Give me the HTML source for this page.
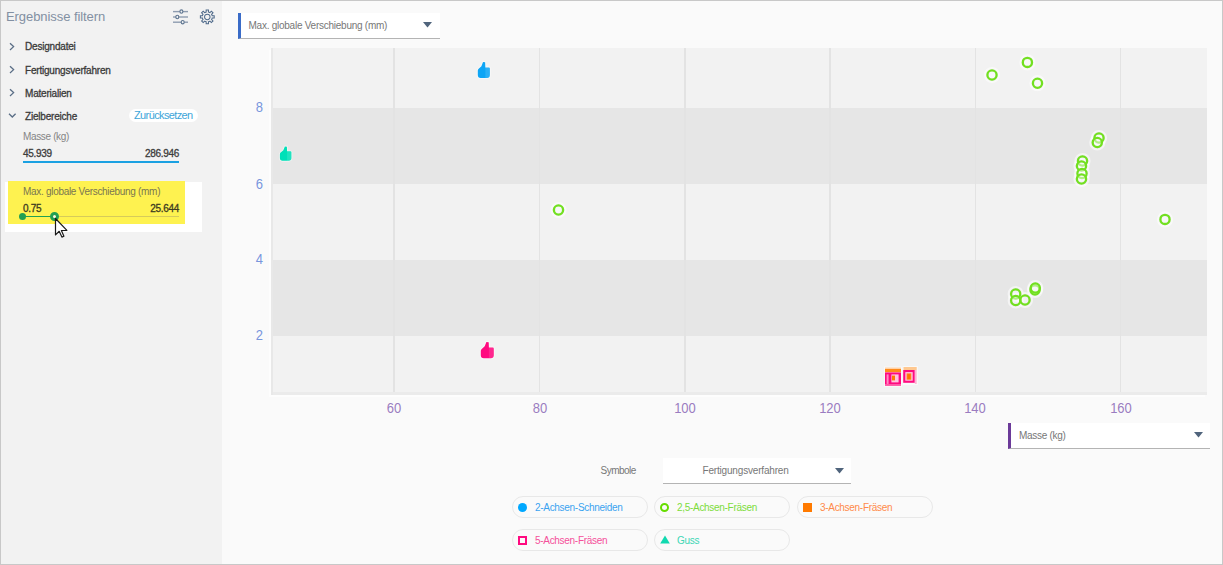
<!DOCTYPE html>
<html><head><meta charset="utf-8">
<style>
*{box-sizing:border-box;margin:0;padding:0}
html,body{width:1223px;height:565px;overflow:hidden;background:#fafafa;font-family:"Liberation Sans",sans-serif}
.abs{position:absolute}
#frame{position:absolute;left:0;top:0;width:1223px;height:565px;border:1px solid #c8c8c8;pointer-events:none;z-index:50}
#side{position:absolute;left:0;top:0;width:222px;height:565px;background:#f2f2f2}
.t{position:absolute;white-space:nowrap;line-height:1}
.hdr{font-size:10px;font-weight:400;color:#3a3a3a;letter-spacing:-0.2px;-webkit-text-stroke:0.3px #3a3a3a}
#plot{position:absolute;left:271px;top:48px;width:936px;height:347px;background:#f2f2f2;box-shadow:-2px 2px 0 #fdfdfd}
.band{position:absolute;left:0;width:936px;height:76px;background:#e6e6e6}
.gl{position:absolute;top:0;width:1.5px;height:344px;background:#e3e3e3}
.xt{position:absolute;top:401px;font-size:13px;color:#9a7cc0;transform:scaleY(1.1);transform-origin:0 0;line-height:1;width:40px;text-align:center;text-shadow:0 0 2px #fff}
.yt{position:absolute;left:247px;font-size:13px;color:#7896dc;transform:scaleY(1.1);transform-origin:0 0;line-height:1;width:16px;text-align:right;text-shadow:0 0 2px #fff}
.dd{position:absolute;background:#fff;border-bottom:1px solid #b4b4b4}
.pill{position:absolute;width:136px;height:21.5px;border:1px solid #e8e8e8;border-radius:11px}
.pill span{position:absolute;left:22px;top:5.7px;font-size:10px;letter-spacing:-0.3px;line-height:1;white-space:nowrap}
</style></head><body>
<div id="side">
<div class="t" style="left:6px;top:10px;font-size:13px;color:#8290a2;letter-spacing:-0.07px">Ergebnisse filtern</div>
<svg class="abs" style="left:170px;top:7px" width="22" height="20" viewBox="0 0 22 20">
 <g stroke="#8e9cb0" stroke-width="1.4" fill="none">
  <line x1="3" y1="4.6" x2="18" y2="4.6"/><line x1="3" y1="10" x2="18" y2="10"/><line x1="3" y1="15.2" x2="18" y2="15.2"/>
 </g>
 <g stroke="#5f7691" stroke-width="1.1" fill="#f2f2f2">
  <ellipse cx="11.4" cy="4.6" rx="1.5" ry="1.7"/><ellipse cx="7.3" cy="10" rx="1.5" ry="1.7"/><ellipse cx="12.7" cy="15.2" rx="1.5" ry="1.7"/>
 </g>
</svg>
<svg class="abs" style="left:198px;top:8px" width="19" height="19" viewBox="0 0 19 19"><g transform="translate(9.3,8.9)" stroke="#4f6a8a" stroke-width="1.05" fill="none" stroke-linejoin="miter"><path d="M-1.15 -4.87 L-1.15 -6.90 L1.15 -6.90 L1.15 -4.87 A5.0 5.0 0 0 1 2.63 -4.25 L4.07 -5.69 L5.69 -4.07 L4.25 -2.63 A5.0 5.0 0 0 1 4.87 -1.15 L6.90 -1.15 L6.90 1.15 L4.87 1.15 A5.0 5.0 0 0 1 4.25 2.63 L5.69 4.07 L4.07 5.69 L2.63 4.25 A5.0 5.0 0 0 1 1.15 4.87 L1.15 6.90 L-1.15 6.90 L-1.15 4.87 A5.0 5.0 0 0 1 -2.63 4.25 L-4.07 5.69 L-5.69 4.07 L-4.25 2.63 A5.0 5.0 0 0 1 -4.87 1.15 L-6.90 1.15 L-6.90 -1.15 L-4.87 -1.15 A5.0 5.0 0 0 1 -4.25 -2.63 L-5.69 -4.07 L-4.07 -5.69 L-2.63 -4.25 Z"/><circle r="2.75"/></g></svg>
<svg class="abs" style="left:8px;top:42px" width="8" height="9" viewBox="0 0 8 9"><path d="M2 1.2 L5.6 4.6 L2 8" stroke="#5a6e86" stroke-width="1.3" fill="none"/></svg>
<div class="t hdr" style="left:25px;top:42px">Designdatei</div>
<svg class="abs" style="left:8px;top:65px" width="8" height="9" viewBox="0 0 8 9"><path d="M2 1.2 L5.6 4.6 L2 8" stroke="#5a6e86" stroke-width="1.3" fill="none"/></svg>
<div class="t hdr" style="left:25px;top:66px">Fertigungsverfahren</div>
<svg class="abs" style="left:8px;top:88px" width="8" height="9" viewBox="0 0 8 9"><path d="M2 1.2 L5.6 4.6 L2 8" stroke="#5a6e86" stroke-width="1.3" fill="none"/></svg>
<div class="t hdr" style="left:25px;top:89px">Materialien</div>
<svg class="abs" style="left:8px;top:112px" width="9" height="7" viewBox="0 0 9 7"><path d="M1 1.8 L4.3 5 L7.6 1.8" stroke="#5a6e86" stroke-width="1.3" fill="none"/></svg>
<div class="t hdr" style="left:25px;top:112px">Zielbereiche</div>
<div class="abs" style="left:129px;top:109px;width:69px;height:13px;background:#fff;border-radius:7px"></div>
<div class="t" style="left:134px;top:110px;font-size:11px;color:#3da5d9;letter-spacing:-0.62px">Zurücksetzen</div>
<div class="t" style="left:23px;top:132px;font-size:10px;color:#858585;letter-spacing:-0.35px">Masse (kg)</div>
<div class="t" style="left:23px;top:149px;font-size:10px;color:#3c3c3c;letter-spacing:-0.3px;-webkit-text-stroke:0.3px #3c3c3c">45.939</div>
<div class="t" style="right:43px;top:149px;font-size:10px;color:#3c3c3c;letter-spacing:-0.3px;-webkit-text-stroke:0.3px #3c3c3c">286.946</div>
<div class="abs" style="left:23px;top:161px;width:156px;height:2px;background:#1ba1e2"></div>
<div class="abs" style="left:5px;top:182px;width:197px;height:50px;background:#fff"></div>
<div class="abs" style="left:8px;top:181px;width:177px;height:43px;background:#fef250"></div>
<div class="t" style="left:23px;top:186.5px;font-size:10px;color:#7a7650;letter-spacing:-0.3px">Max. globale Verschiebung (mm)</div>
<div class="t" style="left:23px;top:203.5px;font-size:10px;color:#3c3a20;letter-spacing:-0.3px;-webkit-text-stroke:0.3px #3c3a20">0.75</div>
<div class="t" style="right:43px;top:203.5px;font-size:10px;color:#3c3a20;letter-spacing:-0.3px;-webkit-text-stroke:0.3px #3c3a20">25.644</div>
<div class="abs" style="left:54px;top:216px;width:125px;height:1px;background:#d6cb5a"></div>
<div class="abs" style="left:22px;top:215.5px;width:32px;height:1.5px;background:#22a052"></div>
<div class="abs" style="left:19px;top:213px;width:7px;height:7px;border-radius:50%;background:#22a052"></div>
<div class="abs" style="left:49.5px;top:212px;width:9px;height:9px;border-radius:50%;border:3px solid #22a052;background:#fffbe0"></div>
<svg class="abs" style="left:54px;top:216.5px" width="16" height="23" viewBox="0 0 16 23"><path d="M1.5 1.5 L1.5 17.9 L5.2 14.3 L7.9 20.1 L9.9 19.3 L7.4 13.5 L12.9 13.3 Z" fill="#fff" stroke="#1a1a1a" stroke-width="1.2" stroke-linejoin="round"/></svg>
</div>
<div id="plot">
<div class="band" style="top:60px"></div>
<div class="band" style="top:212px"></div>
<div class="gl" style="left:122px"></div>
<div class="gl" style="left:267.5px"></div>
<div class="gl" style="left:413px"></div>
<div class="gl" style="left:558px"></div>
<div class="gl" style="left:703.5px"></div>
<div class="gl" style="left:848.5px"></div>
<div class="abs" style="left:0;top:344px;width:936px;height:3px;background:#ebebeb"></div>
<div class="abs" style="left:0;top:0;width:2px;height:347px;background:#e8e8e8"></div>
</div>
<div class="yt" style="top:100px">8</div>
<div class="yt" style="top:176.5px">6</div>
<div class="yt" style="top:252px">4</div>
<div class="yt" style="top:327.5px">2</div>
<div class="xt" style="left:374px">60</div>
<div class="xt" style="left:520px">80</div>
<div class="xt" style="left:665px">100</div>
<div class="xt" style="left:810px">120</div>
<div class="xt" style="left:955px">140</div>
<div class="xt" style="left:1101px">160</div>
<div class="dd" style="left:238px;top:13px;width:202px;height:26px;border-left:3px solid #3a6cc8"></div>
<div class="t" style="left:248.5px;top:20.5px;font-size:10px;color:#777;letter-spacing:-0.25px">Max. globale Verschiebung (mm)</div>
<svg class="abs" style="left:423px;top:22px" width="9" height="6"><path d="M0 0 L9 0 L4.5 5.5 Z" fill="#50647c"/></svg>
<div class="dd" style="left:1008px;top:423px;width:202px;height:26px;border-left:3px solid #6b3a99"></div>
<div class="t" style="left:1019px;top:430.5px;font-size:10px;color:#777;letter-spacing:-0.3px">Masse (kg)</div>
<svg class="abs" style="left:1194px;top:432px" width="9" height="6"><path d="M0 0 L9 0 L4.5 5.5 Z" fill="#50647c"/></svg>
<div class="t" style="left:600.5px;top:465.5px;font-size:10px;color:#777;letter-spacing:-0.5px">Symbole</div>
<div class="dd" style="left:663px;top:458px;width:188px;height:26px"></div>
<div class="t" style="left:702.5px;top:465.5px;font-size:10px;color:#777;letter-spacing:-0.18px">Fertigungsverfahren</div>
<svg class="abs" style="left:834.5px;top:467.5px" width="9" height="6"><path d="M0 0 L9 0 L4.5 5.5 Z" fill="#50647c"/></svg>
<div class="pill" style="left:512px;top:496px"><i class="abs" style="left:5px;top:5.5px;width:9px;height:9px;border-radius:50%;background:#00a8ff"></i><span style="color:#3aa3f0">2-Achsen-Schneiden</span></div>
<div class="pill" style="left:654px;top:496px"><i class="abs" style="left:5px;top:5.5px;width:9px;height:9px;border-radius:50%;border:2px solid #66dd00"></i><span style="color:#7ddc3c">2,5-Achsen-Fräsen</span></div>
<div class="pill" style="left:797px;top:496px"><i class="abs" style="left:5px;top:5.5px;width:9px;height:9px;background:#ff7a00"></i><span style="color:#ff8a4a">3-Achsen-Fräsen</span></div>
<div class="pill" style="left:512px;top:529px"><i class="abs" style="left:5px;top:5.5px;width:9px;height:9px;border:2px solid #ff0a80"></i><span style="color:#f5509a">5-Achsen-Fräsen</span></div>
<div class="pill" style="left:654px;top:529px"><svg class="abs" style="left:5px;top:4.5px" width="10" height="9"><path d="M5 0.5 L9.8 8.5 L0.2 8.5 Z" fill="#10d9b0"/></svg><span style="color:#3dd6b5">Guss</span></div>
<svg class="abs" style="left:0;top:0;z-index:5" width="1223" height="565"><circle cx="992" cy="75" r="7.1" fill="none" stroke="#fff" stroke-opacity="0.55" stroke-width="2"/>
<circle cx="1027.4" cy="62.4" r="7.1" fill="none" stroke="#fff" stroke-opacity="0.55" stroke-width="2"/>
<circle cx="1037.5" cy="83.2" r="7.1" fill="none" stroke="#fff" stroke-opacity="0.55" stroke-width="2"/>
<circle cx="1099" cy="138" r="7.1" fill="none" stroke="#fff" stroke-opacity="0.55" stroke-width="2"/>
<circle cx="1097.3" cy="142.5" r="7.1" fill="none" stroke="#fff" stroke-opacity="0.55" stroke-width="2"/>
<circle cx="1082.5" cy="161" r="7.1" fill="none" stroke="#fff" stroke-opacity="0.55" stroke-width="2"/>
<circle cx="1081.5" cy="166" r="7.1" fill="none" stroke="#fff" stroke-opacity="0.55" stroke-width="2"/>
<circle cx="1082" cy="173.5" r="7.1" fill="none" stroke="#fff" stroke-opacity="0.55" stroke-width="2"/>
<circle cx="1081.5" cy="179" r="7.1" fill="none" stroke="#fff" stroke-opacity="0.55" stroke-width="2"/>
<circle cx="1165" cy="219.4" r="7.1" fill="none" stroke="#fff" stroke-opacity="0.55" stroke-width="2"/>
<circle cx="558.5" cy="210" r="7.1" fill="none" stroke="#fff" stroke-opacity="0.55" stroke-width="2"/>
<circle cx="1015.7" cy="294" r="7.1" fill="none" stroke="#fff" stroke-opacity="0.55" stroke-width="2"/>
<circle cx="1015.7" cy="300.5" r="7.1" fill="none" stroke="#fff" stroke-opacity="0.55" stroke-width="2"/>
<circle cx="1025" cy="300" r="7.1" fill="none" stroke="#fff" stroke-opacity="0.55" stroke-width="2"/>
<circle cx="1035" cy="290" r="7.1" fill="none" stroke="#fff" stroke-opacity="0.55" stroke-width="2"/>
<circle cx="1035.3" cy="288" r="7.1" fill="none" stroke="#fff" stroke-opacity="0.55" stroke-width="2"/>
<circle cx="992" cy="75" r="4.6" fill="#fff" fill-opacity="0.45" stroke="#72e020" stroke-width="2.3"/>
<circle cx="1027.4" cy="62.4" r="4.6" fill="#fff" fill-opacity="0.45" stroke="#72e020" stroke-width="2.3"/>
<circle cx="1037.5" cy="83.2" r="4.6" fill="#fff" fill-opacity="0.45" stroke="#72e020" stroke-width="2.3"/>
<circle cx="1099" cy="138" r="4.6" fill="#fff" fill-opacity="0.45" stroke="#72e020" stroke-width="2.3"/>
<circle cx="1097.3" cy="142.5" r="4.6" fill="#fff" fill-opacity="0.45" stroke="#72e020" stroke-width="2.3"/>
<circle cx="1082.5" cy="161" r="4.6" fill="#fff" fill-opacity="0.45" stroke="#72e020" stroke-width="2.3"/>
<circle cx="1081.5" cy="166" r="4.6" fill="#fff" fill-opacity="0.45" stroke="#72e020" stroke-width="2.3"/>
<circle cx="1082" cy="173.5" r="4.6" fill="#fff" fill-opacity="0.45" stroke="#72e020" stroke-width="2.3"/>
<circle cx="1081.5" cy="179" r="4.6" fill="#fff" fill-opacity="0.45" stroke="#72e020" stroke-width="2.3"/>
<circle cx="1165" cy="219.4" r="4.6" fill="#fff" fill-opacity="0.45" stroke="#72e020" stroke-width="2.3"/>
<circle cx="558.5" cy="210" r="4.6" fill="#fff" fill-opacity="0.45" stroke="#72e020" stroke-width="2.3"/>
<circle cx="1015.7" cy="294" r="4.6" fill="#fff" fill-opacity="0.45" stroke="#72e020" stroke-width="2.3"/>
<circle cx="1015.7" cy="300.5" r="4.6" fill="#fff" fill-opacity="0.45" stroke="#72e020" stroke-width="2.3"/>
<circle cx="1025" cy="300" r="4.6" fill="#fff" fill-opacity="0.45" stroke="#72e020" stroke-width="2.3"/>
<circle cx="1035" cy="290" r="4.6" fill="#fff" fill-opacity="0.45" stroke="#72e020" stroke-width="2.3"/>
<circle cx="1035.3" cy="288" r="4.6" fill="#fff" fill-opacity="0.45" stroke="#72e020" stroke-width="2.3"/>
<g transform="translate(477.8,62) scale(0.93,1)"><path d="M5.6 0 L7.9 0.2 L8.1 5.4 L12 5.4 Q13 5.4 13 6.6 L13 13 Q13 16 10 16 L3 16 Q0 16 0 13 L0 8.6 Q0 7.4 1.2 6.6 L3.9 4.2 Z" fill="none" stroke="#fff" stroke-opacity="0.45" stroke-width="2"/><path d="M5.6 0 L7.9 0.2 L8.1 5.4 L12 5.4 Q13 5.4 13 6.6 L13 13 Q13 16 10 16 L3 16 Q0 16 0 13 L0 8.6 Q0 7.4 1.2 6.6 L3.9 4.2 Z" fill="#0ea5f5"/><rect x="8.1" y="5.4" width="4.9" height="10.6" fill="#fff" fill-opacity="0.12"/></g>
<g transform="translate(279.9,146.5) scale(0.885,0.89)"><path d="M5.6 0 L7.9 0.2 L8.1 5.4 L12 5.4 Q13 5.4 13 6.6 L13 13 Q13 16 10 16 L3 16 Q0 16 0 13 L0 8.6 Q0 7.4 1.2 6.6 L3.9 4.2 Z" fill="none" stroke="#fff" stroke-opacity="0.45" stroke-width="2"/><path d="M5.6 0 L7.9 0.2 L8.1 5.4 L12 5.4 Q13 5.4 13 6.6 L13 13 Q13 16 10 16 L3 16 Q0 16 0 13 L0 8.6 Q0 7.4 1.2 6.6 L3.9 4.2 Z" fill="#00e0b8"/><rect x="8.1" y="5.4" width="4.9" height="10.6" fill="#fff" fill-opacity="0.12"/></g>
<g transform="translate(480.8,342) scale(1,1.01)"><path d="M5.6 0 L7.9 0.2 L8.1 5.4 L12 5.4 Q13 5.4 13 6.6 L13 13 Q13 16 10 16 L3 16 Q0 16 0 13 L0 8.6 Q0 7.4 1.2 6.6 L3.9 4.2 Z" fill="none" stroke="#fff" stroke-opacity="0.45" stroke-width="2"/><path d="M5.6 0 L7.9 0.2 L8.1 5.4 L12 5.4 Q13 5.4 13 6.6 L13 13 Q13 16 10 16 L3 16 Q0 16 0 13 L0 8.6 Q0 7.4 1.2 6.6 L3.9 4.2 Z" fill="#ff0a80"/><rect x="8.1" y="5.4" width="4.9" height="10.6" fill="#fff" fill-opacity="0.12"/></g>

<rect x="884" y="366.5" width="18" height="20.5" fill="#fff" fill-opacity="0.5"/>
<rect x="885" y="367.5" width="16" height="1.6" fill="#ffd2a8"/>
<rect x="885" y="369" width="16" height="3.2" fill="#ff8a1a"/>
<rect x="885" y="372.4" width="16" height="13.4" fill="#ff0a80"/>
<rect x="886.6" y="374.4" width="2" height="9.5" fill="#ff8cc4"/>
<rect x="891.4" y="374.4" width="7.2" height="8" fill="#ffc4e0"/>
<rect x="892" y="375.6" width="3" height="4.8" fill="#ff7a00"/>
<rect x="885" y="384.2" width="16" height="1.6" fill="#ff6cb0"/>
<rect x="902.5" y="366" width="15.5" height="19" fill="#fff" fill-opacity="0.5"/>
<rect x="903.5" y="367" width="13.2" height="3" fill="#ffc890"/>
<rect x="903.2" y="370" width="11.6" height="12.8" fill="#ff0a80"/>
<rect x="905.3" y="372.1" width="7.4" height="8.6" fill="#ffc4e0"/>
<rect x="906.6" y="373.3" width="4.7" height="6.5" fill="#ff8a2a"/>
<rect x="907.4" y="374.2" width="3" height="4.8" fill="#ff7400"/>
<rect x="914.8" y="370" width="1.9" height="14" fill="#ffb4d4"/>
</svg>
<div id="frame"></div>
</body></html>
